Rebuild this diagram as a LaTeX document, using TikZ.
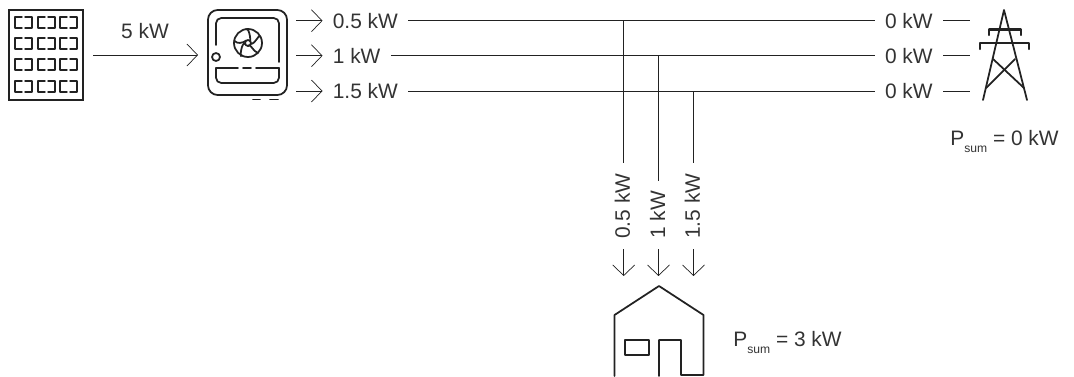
\documentclass[tikz,border=0pt]{standalone}
\usepackage{fontspec}
\setmainfont{Liberation Sans}
\usepackage{xcolor}
\usepackage{tikz}
\usetikzlibrary{arrows.meta,calc}
\definecolor{wirecol}{HTML}{222222}
\definecolor{textcol}{HTML}{333333}
\newcommand{\psum}[1]{P\raisebox{-4.3pt}{\fontsize{6.9}{8}\selectfont sum} = #1 kW}
\tikzset{
  every picture/.style = {
    x=0.02cm,
    y=-0.02cm,
    font=\fontsize{11.9}{14}\selectfont
  },
  wire/.style={
    draw=wirecol,
    line width=0.55pt
  },
  flow/.style={
    wire,
    -{Straight Barb[length=6pt,width=12.5pt,line width=0.4pt]}
  },
  icon/.style={
    draw=wirecol,
    line width=1pt,
    line cap=round,
    line join=round
  },
  power/.style={
    text=textcol,
    inner xsep=5.7pt,
    inner ysep=0pt
  }
}
\tikzset{
  cell/.pic={
    \draw[icon,line width=0.8pt] (7,0)--(0,0)--(0,11)--(7,11);
    \draw[icon,line width=0.8pt] (10,0)--(17,0)--(17,11)--(10,11);
  }
}
\tikzset{
  panel/.pic={
    \draw[icon,line width=1.15pt,line cap=butt,line join=miter] (0,0) rectangle (74,90);
    \pic at (6,7) {cell};
    \pic at (29,7) {cell};
    \pic at (51,7) {cell};
    \pic at (6,28) {cell};
    \pic at (29,28) {cell};
    \pic at (51,28) {cell};
    \pic at (6,49) {cell};
    \pic at (29,49) {cell};
    \pic at (51,49) {cell};
    \pic at (6,71) {cell};
    \pic at (29,71) {cell};
    \pic at (51,71) {cell};
  }
}
\tikzset{
  inverter/.pic={
    \draw[icon,rounded corners=5.5pt] (0,0) rectangle (79,85);
    \draw[icon,rounded corners=3pt] (8,35)--(8,8)--(71,8)--(71,52);
    \draw[icon] (8,47) circle (4);
    \draw[icon] (40,33) circle (14);
    \draw[icon] (40,33) circle (3);
    \draw[icon] (40,33) ++(90:3) to [out=70,in=170] ++(35:12);
    \draw[icon] (40,33) ++(18:3) to [out=-2,in=98] ++(-37:12);
    \draw[icon] (40,33) ++(-54:3) to [out=-74,in=26] ++(-109:12);
    \draw[icon] (40,33) ++(-126:3) to [out=-146,in=-46] ++(-181:12);
    \draw[icon] (40,33) ++(162:3) to [out=142,in=242] ++(107:12);
    \draw[icon] (30,58)--(8,58);
    \draw[icon,rounded corners=3pt] (8,58)--(8,73)--(71,73)--(71,58);
    \draw[icon] (71,58)--(48,58);
    \draw[icon] (35,58)--(43,58);
    \draw[icon] (45,89.5)--(52,89.5);
    \draw[icon] (62,89.5)--(70,89.5);
  }
}
\tikzset{
  tower/.pic={
    \draw[icon] (-21,90)--(0,0)--(23,90);
    \draw[icon,line width=1.2pt] (-15,25)--(-15,19.5)--(17,19.5)--(17,25);
    \draw[icon,line width=1.2pt] (-24,39)--(-24,32.7)--(25,32.7)--(25,39);
    \draw[icon] (-11,49)--(20,78);
    \draw[icon] (11,49)--(-18,78);
  }
}
\tikzset{
  house/.pic={
    \draw[icon] (-44.5,90)--(-44.5,29)--(0,0)--(44.5,29)--(44.5,89)--(22,89)--(22,54)--(0,54)--(0,90);
    \draw[icon] (-34,54) rectangle (-10,69);
  }
}

\begin{document}
\begin{tikzpicture}
        \useasboundingbox (0,0) rectangle (1074,376);
        \pic at (9,10) {panel};
        \pic at (208,10) {inverter};
        \pic at (1004,10) {tower};
        \pic at (659,286) {house};
        % panel to inverter
        \coordinate (pvout) at (93,55);
        \coordinate (invin) at (198,55);
        \draw[flow] (pvout) -- (invin);
        \node[power,inner xsep=0pt] (pvpower) at (145,31) {5 kW};
        % inverter outputs
        \coordinate (inv05) at (296,20.7);
        \coordinate (inv10) at (296,55.7);
        \coordinate (inv15) at (296,91);
        \node[power,anchor=west] (out05) at (322.5,20.7) {0.5 kW};
        \node[power,anchor=west] (out10) at (322.5,55.7) {1 kW};
        \node[power,anchor=west] (out15) at (322.5,91) {1.5 kW};
        \draw[flow] (inv05) -- (out05.west);
        \draw[flow] (inv10) -- (out10.west);
        \draw[flow] (inv15) -- (out15.west);
        % grid side
        \node[power,anchor=east] (grid05) at (943,20.7) {0 kW};
        \node[power,anchor=east] (grid10) at (943,55.7) {0 kW};
        \node[power,anchor=east] (grid15) at (943,91) {0 kW};
        \coordinate (tower05) at (970,20.7);
        \coordinate (tower10) at (970,55.7);
        \coordinate (tower15) at (970,91);
        \draw[wire] (out05.east) -- (grid05.west);
        \draw[wire] (out10.east) -- (grid10.west);
        \draw[wire] (out15.east) -- (grid15.west);
        \draw[wire] (grid05.east) -- (tower05);
        \draw[wire] (grid10.east) -- (tower10);
        \draw[wire] (grid15.east) -- (tower15);
        % house side
        \coordinate (tap05) at (623.7,20.7);
        \coordinate (tap10) at (658.5,55.7);
        \coordinate (tap15) at (693.5,91);
        \node[power,anchor=west,rotate=90] (load05) at (622.5,249) {0.5 kW};
        \node[power,anchor=west,rotate=90] (load10) at (657.5,249) {1 kW};
        \node[power,anchor=west,rotate=90] (load15) at (692.5,249) {1.5 kW};
        \coordinate (house05) at (623.7,276);
        \coordinate (house10) at (658.5,276);
        \coordinate (house15) at (693.5,276);
        \draw[wire] (tap05) -- (tap05 |- load05.east);
        \draw[wire] (tap10) -- (tap10 |- load10.east);
        \draw[wire] (tap15) -- (tap15 |- load15.east);
        \draw[flow] (tap05 |- load05.west) -- (house05);
        \draw[flow] (tap10 |- load10.west) -- (house10);
        \draw[flow] (tap15 |- load15.west) -- (house15);
        % totals
        \node[power,anchor=base west,inner xsep=0pt] (gridsum) at (950,145) {\psum{0}};
        \node[power,anchor=base west,inner xsep=0pt] (housesum) at (733,346) {\psum{3}};
    \end{tikzpicture}
\end{document}
